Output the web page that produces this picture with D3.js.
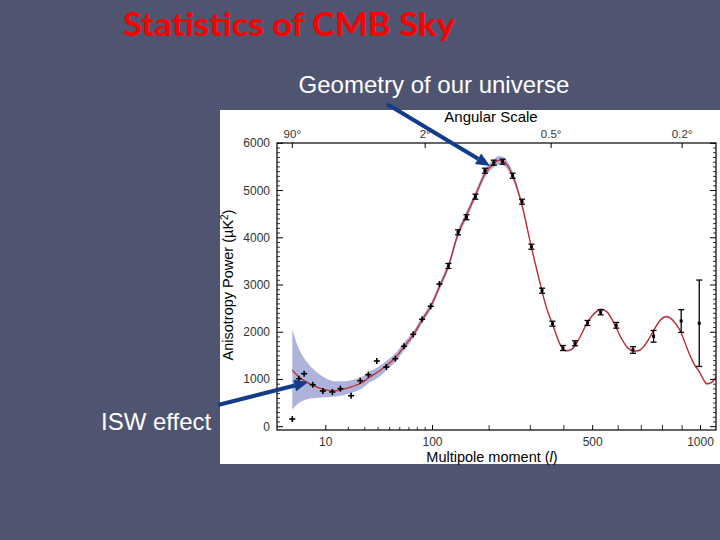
<!DOCTYPE html>
<html>
<head>
<meta charset="utf-8">
<script src="https://cdn.jsdelivr.net/npm/d3@7"></script>
<style>
  html, body { margin: 0; padding: 0; background: #4f5471; }
  svg { display: block; }
</style>
</head>
<body>
<svg width="720" height="540"></svg>
<script>
// best-fit model curve (multipole l, power in uK^2)
let modelL = [2, 3, 4, 6, 9, 12, 14, 17, 22, 28, 33, 41, 48, 55, 64, 75, 86, 98, 110, 124, 140, 155, 172, 191, 210, 222, 235, 250, 265, 280, 300, 325, 345, 367, 389, 407, 425, 450, 480, 510, 532, 555, 580, 610, 640, 670, 690, 710, 735, 760, 790, 820, 845, 865, 888, 915, 941, 967, 993, 1015, 1035, 1060, 1100]
let modelP = [1200, 1055, 975, 876, 798, 760, 762, 790, 847, 932, 1040, 1180, 1310, 1448, 1681, 1942, 2259, 2560, 2960, 3403, 4080, 4480, 4900, 5350, 5575, 5640, 5600, 5400, 5060, 4620, 3900, 3106, 2541, 2117, 1730, 1609, 1635, 1850, 2200, 2420, 2486, 2430, 2220, 1900, 1670, 1600, 1615, 1690, 1860, 2060, 2260, 2329, 2280, 2189, 2047, 1780, 1518, 1310, 1165, 1010, 910, 930, 1110]
// cosmic variance band edges, same l as the model
let bandHi = [2060, 1650, 1450, 1230, 1060, 980, 960, 960, 990, 1060, 1160, 1280, 1410, 1540, 1770, 2020, 2330, 2630, 3030, 3480, 4160, 4560, 4980, 5430, 5660, 5730, 5690, 5480, 5130, 4680, 3950, 3150, 2580, 2150, 1760, 1635, 1660, 1875, 2225, 2445, 2510, 2455, 2245, 1925, 1695, 1625, 1640, 1715, 1885, 2085, 2285, 2354, 2305, 2214, 2072, 1805, 1543, 1335, 1190, 1035, 935, 955, 1135]
let bandLo = [360, 500, 560, 600, 620, 630, 640, 660, 720, 810, 930, 1060, 1210, 1360, 1600, 1870, 2190, 2490, 2890, 3330, 4000, 4400, 4820, 5270, 5490, 5550, 5510, 5320, 4990, 4560, 3850, 3060, 2500, 2085, 1700, 1583, 1610, 1825, 2175, 2395, 2462, 2405, 2195, 1875, 1645, 1575, 1590, 1665, 1835, 2035, 2235, 2304, 2255, 2164, 2022, 1755, 1493, 1285, 1140, 985, 885, 905, 1085]

// WMAP data points: multipole, power, error (0 = plain cross)
let dataL = [2, 3, 4, 6, 9, 12.5, 16, 21.5, 27, 32.5, 39, 47, 55.5, 64.5, 75, 86, 97.5, 110, 124, 140, 155, 172, 191, 210, 230, 254, 278, 303, 333, 364, 397, 437, 481, 530, 592, 663, 757, 895, 993]
let dataP = [163, 1016, 1122, 889, 756, 735, 805, 656, 974, 1101, 1391, 1264, 1440, 1702, 1956, 2274, 2549, 3021, 3403, 4116, 4434, 4870, 5420, 5590, 5611, 5314, 4764, 3811, 2880, 2181, 1666, 1766, 2196, 2422, 2147, 1624, 1914, 2238, 2190]
let dataErr = [0, 0, 0, 0, 0, 0, 0, 0, 0, 0, 0, 0, 0, 0, 0, 0, 0, 0, 30, 30, 30, 30, 30, 30, 30, 30, 30, 30, 30, 25, 25, 35, 40, 50, 60, 70, 123, 240, 915]

let yTicks = [0, 1000, 2000, 3000, 4000, 5000, 6000]
let xTickLabels = [10, 100, 500, 1000]
let xMinorTicks = [20, 30, 40, 50, 60, 70, 80, 90, 200, 300, 400, 600, 700, 800, 900]
let angleL = [2, 90, 360, 900]
let angleLabels = ["90°", "2°", "0.5°", "0.2°"]

let svg = d3.select("svg")

let box = { left: 277, right: 716, top: 143, bottom: 430 }

let xScale = d3.scalePow().exponent(0.4)
  .domain([2, 1000])
  .range([292.3, 700.5])

let yScale = d3.scaleLinear()
  .domain([0, 6000])
  .range([426.7, 143.3])

let sans = "'Liberation Sans', Arial, sans-serif"

// slide title and annotations
svg.append("text")
  .attr("x", 123).attr("y", 36)
  .attr("textLength", 332).attr("lengthAdjust", "spacingAndGlyphs")
  .style("font-family", "Lato, 'Open Sans', sans-serif")
  .style("font-weight", "bold")
  .style("font-size", "32px")
  .style("fill", "#ff0000")
  .text("Statistics of CMB Sky")

svg.append("text")
  .attr("x", 434).attr("y", 93)
  .attr("text-anchor", "middle")
  .style("font-family", sans)
  .style("font-size", "24px")
  .style("fill", "#ffffff")
  .text("Geometry of our universe")

svg.append("text")
  .attr("x", 101).attr("y", 430)
  .style("font-family", sans)
  .style("font-size", "24px")
  .style("fill", "#ffffff")
  .text("ISW effect")

// white figure panel
svg.append("rect")
  .attr("x", 220).attr("y", 110)
  .attr("width", 500).attr("height", 354)
  .attr("fill", "#ffffff")

svg.append("defs").append("clipPath").attr("id", "plotclip")
  .append("rect")
  .attr("x", box.left).attr("y", box.top)
  .attr("width", box.right - box.left).attr("height", box.bottom - box.top)

let plot = svg.append("g").attr("clip-path", "url(#plotclip)")

let model = modelL.map((l, i) => ({ l: l, p: modelP[i], hi: bandHi[i], lo: bandLo[i] }))

let band = d3.area()
  .x(d => xScale(d.l))
  .y0(d => yScale(d.lo))
  .y1(d => yScale(d.hi))
  .curve(d3.curveMonotoneX)

plot.append("path")
  .datum(model)
  .attr("d", band)
  .attr("fill", "#adb3db")

let line = d3.line()
  .x(d => xScale(d.l))
  .y(d => yScale(d.p))
  .curve(d3.curveMonotoneX)

plot.append("path")
  .datum(model)
  .attr("d", line)
  .attr("fill", "none")
  .attr("stroke", "#c22a2e")
  .attr("stroke-width", 1.3)

// data points
let points = dataL.map((l, i) => ({ l: l, p: dataP[i], e: dataErr[i] }))

let pt = plot.selectAll(".pt")
  .data(points)
  .enter()
  .append("g")
  .attr("class", "pt")
  .attr("transform", d => "translate(" + xScale(d.l) + "," + yScale(d.p) + ")")

pt.each(function (d) {
  let g = d3.select(this)
  if (d.e === 0) {
    g.append("line").attr("x1", -3).attr("x2", 3).attr("y1", 0).attr("y2", 0)
      .attr("stroke", "#000").attr("stroke-width", 1.6)
    g.append("line").attr("x1", 0).attr("x2", 0).attr("y1", -3).attr("y2", 3)
      .attr("stroke", "#000").attr("stroke-width", 1.6)
  } else {
    let h = Math.max(yScale(0) - yScale(d.e), 2.5)
    g.append("line").attr("x1", 0).attr("x2", 0).attr("y1", -h).attr("y2", h)
      .attr("stroke", "#000").attr("stroke-width", 1.3)
    g.append("line").attr("x1", -3).attr("x2", 3).attr("y1", -h).attr("y2", -h)
      .attr("stroke", "#000").attr("stroke-width", 1.3)
    g.append("line").attr("x1", -3).attr("x2", 3).attr("y1", h).attr("y2", h)
      .attr("stroke", "#000").attr("stroke-width", 1.3)
    g.append("rect").attr("x", -1.5).attr("y", -1.5).attr("width", 3).attr("height", 3)
      .attr("fill", "#000")
  }
})

// frame
svg.append("rect")
  .attr("x", box.left).attr("y", box.top)
  .attr("width", box.right - box.left).attr("height", box.bottom - box.top)
  .attr("fill", "none")
  .attr("stroke", "#000")
  .attr("stroke-width", 1.2)

let tickColor = "#000"

// y ticks on both sides, pointing inward
let yMinor = d3.range(0, 6001, 100).filter(v => v % 1000 !== 0)
let yAxisG = svg.append("g")
yAxisG.selectAll(".ymaj").data(yTicks).enter().append("line")
  .attr("x1", box.left).attr("x2", box.left + 6)
  .attr("y1", d => yScale(d)).attr("y2", d => yScale(d))
  .attr("stroke", tickColor)
yAxisG.selectAll(".ymin").data(yMinor).enter().append("line")
  .attr("x1", box.left).attr("x2", box.left + 3)
  .attr("y1", d => yScale(d)).attr("y2", d => yScale(d))
  .attr("stroke", tickColor).attr("stroke-width", 0.8)
yAxisG.selectAll(".ymaj2").data(yTicks).enter().append("line")
  .attr("x1", box.right).attr("x2", box.right - 6)
  .attr("y1", d => yScale(d)).attr("y2", d => yScale(d))
  .attr("stroke", tickColor)
yAxisG.selectAll(".ymin2").data(yMinor).enter().append("line")
  .attr("x1", box.right).attr("x2", box.right - 3)
  .attr("y1", d => yScale(d)).attr("y2", d => yScale(d))
  .attr("stroke", tickColor).attr("stroke-width", 0.8)
yAxisG.selectAll(".ylab").data(yTicks).enter().append("text")
  .attr("x", box.left - 7)
  .attr("y", d => yScale(d) + 4)
  .attr("text-anchor", "end")
  .style("font-family", sans)
  .style("font-size", "12px")
  .style("fill", "#333")
  .text(d => d)

// bottom ticks
let xAxisG = svg.append("g")
xAxisG.selectAll(".xmaj").data(xTickLabels).enter().append("line")
  .attr("x1", d => xScale(d)).attr("x2", d => xScale(d))
  .attr("y1", box.bottom).attr("y2", box.bottom - 5)
  .attr("stroke", tickColor)
xAxisG.selectAll(".xmin").data(xMinorTicks).enter().append("line")
  .attr("x1", d => xScale(d)).attr("x2", d => xScale(d))
  .attr("y1", box.bottom).attr("y2", d => box.bottom - (d < 100 ? 3 : 5))
  .attr("stroke", tickColor).attr("stroke-width", 0.8)
xAxisG.selectAll(".xlab").data(xTickLabels).enter().append("text")
  .attr("x", d => xScale(d))
  .attr("y", 446)
  .attr("text-anchor", "middle")
  .style("font-family", sans)
  .style("font-size", "12px")
  .style("fill", "#333")
  .text(d => d)

// top angular scale ticks
let topG = svg.append("g")
topG.selectAll(".atick").data(angleL).enter().append("line")
  .attr("x1", d => xScale(d)).attr("x2", d => xScale(d))
  .attr("y1", box.top).attr("y2", box.top + 5)
  .attr("stroke", tickColor)
topG.selectAll(".alab").data(angleL).enter().append("text")
  .attr("x", d => xScale(d))
  .attr("y", 138)
  .attr("text-anchor", "middle")
  .style("font-family", sans)
  .style("font-size", "11.5px")
  .style("fill", "#333")
  .text((d, i) => angleLabels[i])

// axis titles
svg.append("text")
  .attr("x", 491).attr("y", 122)
  .attr("text-anchor", "middle")
  .style("font-family", sans)
  .style("font-size", "15px")
  .style("fill", "#000")
  .text("Angular Scale")

let xt = svg.append("text")
  .attr("x", 492).attr("y", 462)
  .attr("text-anchor", "middle")
  .style("font-family", sans)
  .style("font-size", "14.5px")
  .style("fill", "#000")
xt.append("tspan").text("Multipole moment (")
xt.append("tspan").style("font-style", "italic").text("l")
xt.append("tspan").text(")")

let yt = svg.append("text")
  .attr("transform", "translate(233,285) rotate(-90)")
  .attr("text-anchor", "middle")
  .style("font-family", sans)
  .style("font-size", "14.5px")
  .style("fill", "#000")
yt.append("tspan").text("Anisotropy Power (µK")
yt.append("tspan").attr("dy", -5).style("font-size", "10px").text("2")
yt.append("tspan").attr("dy", 5).text(")")

// arrows pointing at features of the curve
let arrowBlue = "#123b8c"
let arrows = [
  { l: 202, p: 5520, fromX: 387, fromY: 104 },
  { l: 4.9, p: 946, fromX: 218, fromY: 405 }
]
arrows.forEach(a => {
  let tx = xScale(a.l), ty = yScale(a.p)
  let ang = Math.atan2(ty - a.fromY, tx - a.fromX)
  let len = 14, wid = 6
  let bx = tx - len * Math.cos(ang), by = ty - len * Math.sin(ang)
  svg.append("line")
    .attr("x1", a.fromX).attr("y1", a.fromY)
    .attr("x2", bx).attr("y2", by)
    .attr("stroke", arrowBlue).attr("stroke-width", 4)
  let px = -Math.sin(ang) * wid, py = Math.cos(ang) * wid
  svg.append("path")
    .attr("d", "M" + tx + "," + ty + "L" + (bx + px) + "," + (by + py) + "L" + (bx - px) + "," + (by - py) + "Z")
    .attr("fill", arrowBlue)
})
</script>
</body>
</html>
